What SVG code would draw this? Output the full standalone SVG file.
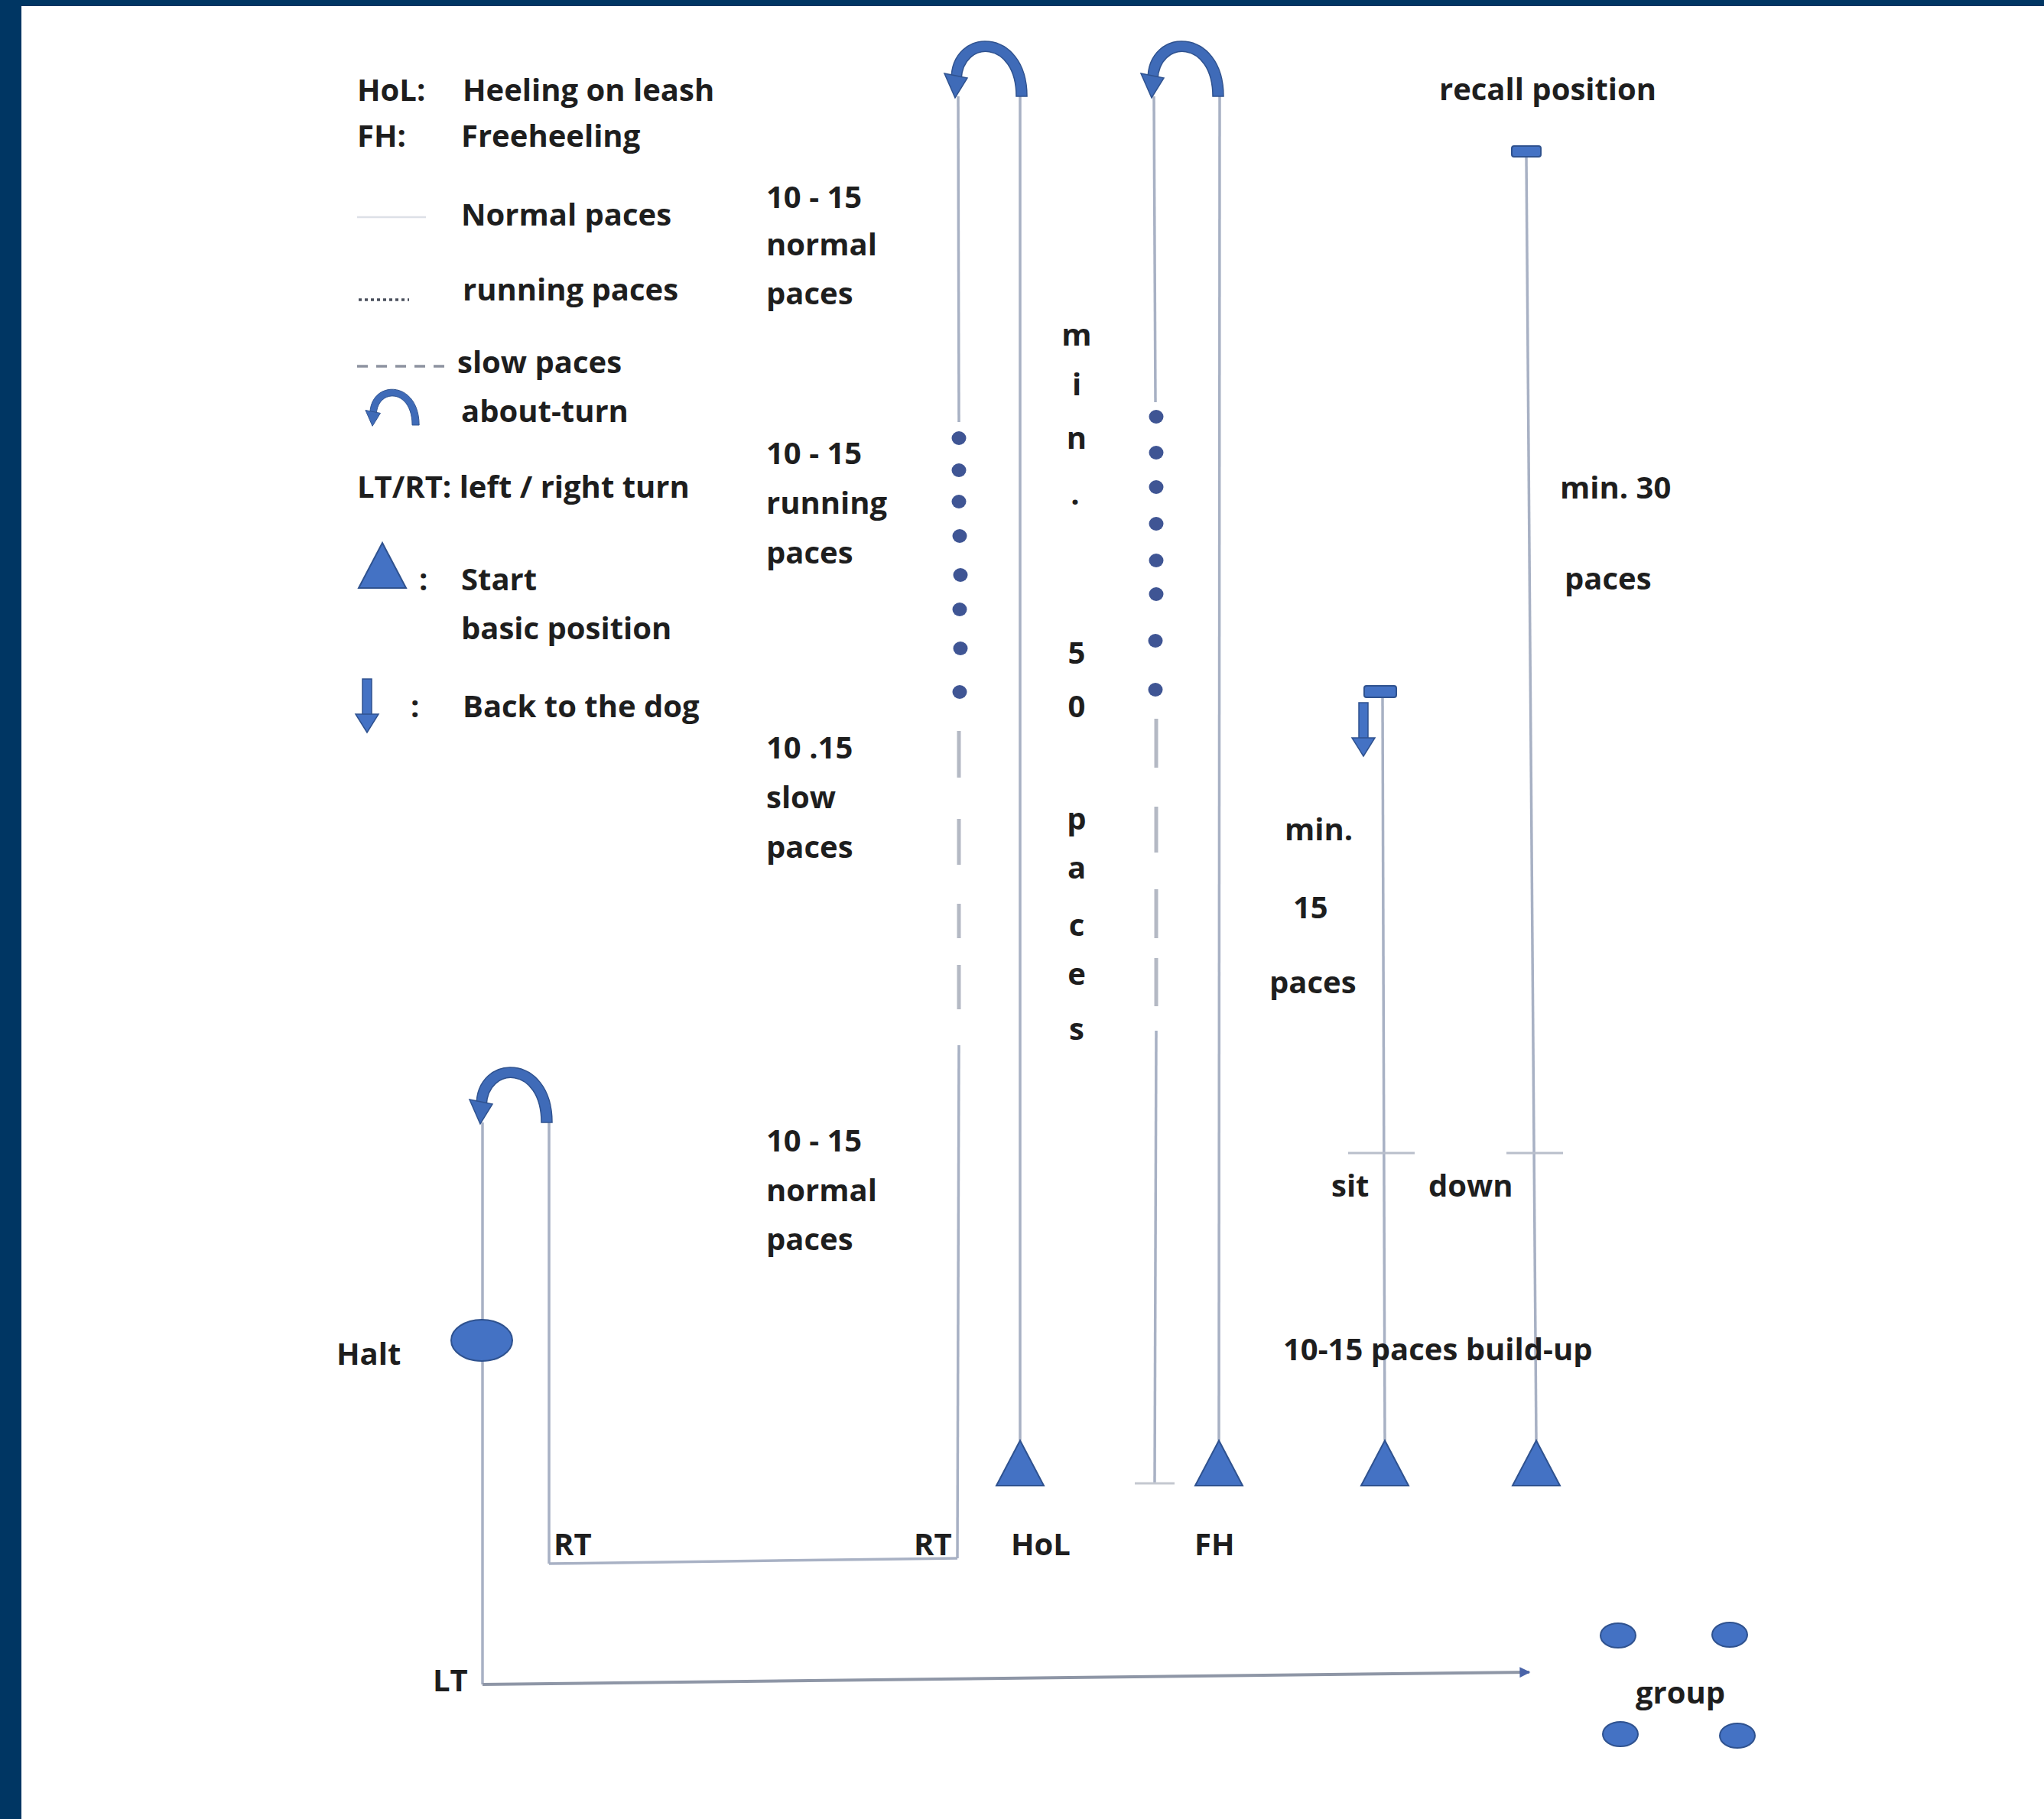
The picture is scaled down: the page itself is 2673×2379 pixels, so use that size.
<svg xmlns="http://www.w3.org/2000/svg" width="2673" height="2379" viewBox="0 0 2673 2379">
<style>
.t{font-family:"Open Sans","Liberation Sans",sans-serif;font-weight:700;font-size:40px;fill:#1e1e1e}
.v{text-anchor:middle}
.ln{stroke:#a8b1c4;stroke-width:3.5;fill:none}
.dash{stroke:#b4b9c4;stroke-width:5;fill:none}
.blue{fill:#4472C4;stroke:#2F528F;stroke-width:2}
.dot{fill:#3f5594}
</style>
<defs>
<g id="aboutTurn">
<path d="M 91 0 C 91 -92 -8 -92 -8 -22 L 5 -22 C 7 -74 77 -74 77 0 Z" fill="#3f6bb8" stroke="#2F528F" stroke-width="1.5"/>
<polygon points="-17,-30 13,-24 -3,2" fill="#3f6bb8" stroke="#2F528F" stroke-width="1.5"/>
</g>
<g id="downArrow">
<rect x="-6" y="0" width="12" height="48" fill="#4472C4" stroke="#2F528F" stroke-width="1.5"/>
<polygon points="-15,46 15,46 0,70" fill="#4472C4" stroke="#2F528F" stroke-width="1.5"/>
</g>
<polygon id="startTri" points="0,0 -31,59 31,59" fill="#4472C4" stroke="#2F528F" stroke-width="2"/>
<marker id="arr" viewBox="0 0 10 10" refX="9" refY="5" markerWidth="16" markerHeight="14" markerUnits="userSpaceOnUse" orient="auto">
<path d="M0,0 L10,5 L0,10 Z" fill="#4a64a8"/>
</marker>
</defs>

<rect x="0" y="0" width="2673" height="2379" fill="#ffffff"/>
<rect x="0" y="0" width="2673" height="8" fill="#003663"/>
<rect x="0" y="0" width="28" height="2379" fill="#003663"/>

<g id="legend">
<text class="t" x="467" y="132">HoL:</text>
<text class="t" x="605" y="132">Heeling on leash</text>
<text class="t" x="467" y="192">FH:</text>
<text class="t" x="603" y="192">Freeheeling</text>
<line x1="467" y1="284" x2="557" y2="284" stroke="#dde0e7" stroke-width="2.5"/>
<text class="t" x="603" y="295">Normal paces</text>
<line x1="469" y1="392" x2="535" y2="392" stroke="#4a4f5c" stroke-width="3.5" stroke-dasharray="4 4"/>
<text class="t" x="605" y="393">running paces</text>
<line x1="467" y1="479" x2="585" y2="479" stroke="#8d93a0" stroke-width="3.5" stroke-dasharray="14 11"/>
<text class="t" x="598" y="488">slow paces</text>
<use href="#aboutTurn" transform="translate(489,556) scale(0.65)"/>
<text class="t" x="603" y="552">about-turn</text>
<text class="t" x="467" y="651">LT/RT: left / right turn</text>
<use href="#startTri" transform="translate(500,710) scale(1.0)"/>
<text class="t" x="548" y="772">:</text>
<text class="t" x="603" y="772">Start</text>
<text class="t" x="603" y="836">basic position</text>
<use href="#downArrow" transform="translate(480,888)"/>
<text class="t" x="537" y="938">:</text>
<text class="t" x="605" y="938">Back to the dog</text>
</g>

<g id="connectors">
<!-- HoL course -->
<line class="ln" x1="1253" y1="126" x2="1254" y2="552"/>
<line class="dash" x1="1254" y1="956" x2="1254" y2="1017"/>
<line class="dash" x1="1254" y1="1071" x2="1254" y2="1131"/>
<line class="dash" x1="1254" y1="1182" x2="1254" y2="1227"/>
<line class="dash" x1="1254" y1="1262" x2="1254" y2="1320"/>
<line class="ln" x1="1254" y1="1367" x2="1252" y2="2038"/>
<line class="ln" x1="1334" y1="126" x2="1334" y2="1884"/>
<!-- FH course -->
<line class="ln" x1="1509" y1="126" x2="1511" y2="526"/>
<line class="dash" x1="1512" y1="940" x2="1512" y2="1004"/>
<line class="dash" x1="1512" y1="1055" x2="1512" y2="1115"/>
<line class="dash" x1="1512" y1="1163" x2="1512" y2="1227"/>
<line class="dash" x1="1512" y1="1253" x2="1512" y2="1316"/>
<line class="ln" x1="1512" y1="1348" x2="1510" y2="1940"/>
<line x1="1484" y1="1940" x2="1536" y2="1940" stroke="#c4c8d0" stroke-width="3"/>
<line class="ln" x1="1595" y1="126" x2="1594" y2="1884"/>
<!-- sit course -->
<line class="ln" x1="1808" y1="913" x2="1811" y2="1884"/>
<line x1="1763" y1="1508" x2="1850" y2="1508" stroke="#b9bfcb" stroke-width="3"/>
<!-- recall course -->
<line class="ln" x1="1996" y1="205" x2="2009" y2="1884"/>
<line x1="1970" y1="1508" x2="2044" y2="1508" stroke="#b9bfcb" stroke-width="3"/>
<!-- bottom route -->
<line class="ln" x1="718" y1="1468" x2="718" y2="2045"/>
<line class="ln" x1="718" y1="2045" x2="1252" y2="2038"/>
<line class="ln" x1="631" y1="1468" x2="631" y2="2203"/>
<line x1="631" y1="2203" x2="2000" y2="2187" stroke="#8e96a6" stroke-width="4" marker-end="url(#arr)"/>
</g>

<g id="hol-dots">
<ellipse class="dot" cx="1254" cy="573" rx="9.5" ry="9"/>
<ellipse class="dot" cx="1254" cy="615" rx="9.5" ry="9"/>
<ellipse class="dot" cx="1254" cy="656" rx="9.5" ry="9"/>
<ellipse class="dot" cx="1255" cy="701" rx="9.5" ry="9"/>
<ellipse class="dot" cx="1256" cy="752" rx="9.5" ry="9"/>
<ellipse class="dot" cx="1255" cy="797" rx="9.5" ry="9"/>
<ellipse class="dot" cx="1256" cy="848" rx="9.5" ry="9"/>
<ellipse class="dot" cx="1255" cy="905" rx="9.5" ry="9"/>
</g>
<g id="fh-dots">
<ellipse class="dot" cx="1512" cy="545" rx="9.5" ry="9"/>
<ellipse class="dot" cx="1512" cy="592" rx="9.5" ry="9"/>
<ellipse class="dot" cx="1512" cy="637" rx="9.5" ry="9"/>
<ellipse class="dot" cx="1512" cy="685" rx="9.5" ry="9"/>
<ellipse class="dot" cx="1512" cy="733" rx="9.5" ry="9"/>
<ellipse class="dot" cx="1512" cy="777" rx="9.5" ry="9"/>
<ellipse class="dot" cx="1511" cy="838" rx="9.5" ry="9"/>
<ellipse class="dot" cx="1511" cy="902" rx="9.5" ry="9"/>
</g>

<g id="turn-hol"><use href="#aboutTurn" transform="translate(1252,126)"/></g>
<g id="turn-fh"><use href="#aboutTurn" transform="translate(1509,126)"/></g>
<g id="turn-bottom"><use href="#aboutTurn" transform="translate(631,1468)"/></g>

<g id="recall-marker"><rect class="blue" x="1977" y="191" width="38" height="14" rx="3"/></g>
<g id="back-to-dog">
<rect class="blue" x="1784" y="897" width="42" height="15" rx="3"/>
<use href="#downArrow" transform="translate(1783,919)"/>
</g>

<g id="halt"><ellipse class="blue" cx="630" cy="1753" rx="40" ry="27"/></g>

<g id="start-hol"><use href="#startTri" transform="translate(1334,1884)"/></g>
<g id="start-fh"><use href="#startTri" transform="translate(1594,1884)"/></g>
<g id="start-sit"><use href="#startTri" transform="translate(1811,1884)"/></g>
<g id="start-recall"><use href="#startTri" transform="translate(2009,1884)"/></g>

<g id="group">
<ellipse class="blue" cx="2116" cy="2139" rx="23" ry="16"/>
<ellipse class="blue" cx="2262" cy="2138" rx="23" ry="16"/>
<ellipse class="blue" cx="2119" cy="2268" rx="23" ry="16"/>
<ellipse class="blue" cx="2272" cy="2270" rx="23" ry="16"/>
<text class="t" x="2139" y="2228">group</text>
</g>

<g id="labels">
<text class="t" x="1002" y="272">10 - 15</text>
<text class="t" x="1002" y="334">normal</text>
<text class="t" x="1002" y="398">paces</text>
<text class="t" x="1002" y="607">10 - 15</text>
<text class="t" x="1002" y="672">running</text>
<text class="t" x="1002" y="737">paces</text>
<text class="t" x="1002" y="992">10 .15</text>
<text class="t" x="1002" y="1057">slow</text>
<text class="t" x="1002" y="1122">paces</text>
<text class="t" x="1002" y="1506">10 - 15</text>
<text class="t" x="1002" y="1571">normal</text>
<text class="t" x="1002" y="1635">paces</text>

<text class="t v" x="1408" y="452">m</text>
<text class="t v" x="1408" y="517">i</text>
<text class="t v" x="1408" y="587">n</text>
<text class="t v" x="1406" y="660">.</text>
<text class="t v" x="1408" y="868">5</text>
<text class="t v" x="1408" y="938">0</text>
<text class="t v" x="1408" y="1085">p</text>
<text class="t v" x="1408" y="1149">a</text>
<text class="t v" x="1408" y="1224">c</text>
<text class="t v" x="1408" y="1288">e</text>
<text class="t v" x="1408" y="1360">s</text>

<text class="t" x="1882" y="131">recall position</text>
<text class="t" x="2040" y="652">min. 30</text>
<text class="t" x="2046" y="771">paces</text>
<text class="t" x="1680" y="1099">min.</text>
<text class="t" x="1691" y="1201">15</text>
<text class="t" x="1660" y="1299">paces</text>
<text class="t" x="1741" y="1565">sit</text>
<text class="t" x="1868" y="1565">down</text>
<text class="t" x="1678" y="1779">10-15 paces build-up</text>
<text class="t" x="440" y="1785">Halt</text>
<text class="t" x="724" y="2034">RT</text>
<text class="t" x="1195" y="2034">RT</text>
<text class="t" x="1322" y="2034">HoL</text>
<text class="t" x="1562" y="2034">FH</text>
<text class="t" x="566" y="2212">LT</text>
</g>
</svg>
